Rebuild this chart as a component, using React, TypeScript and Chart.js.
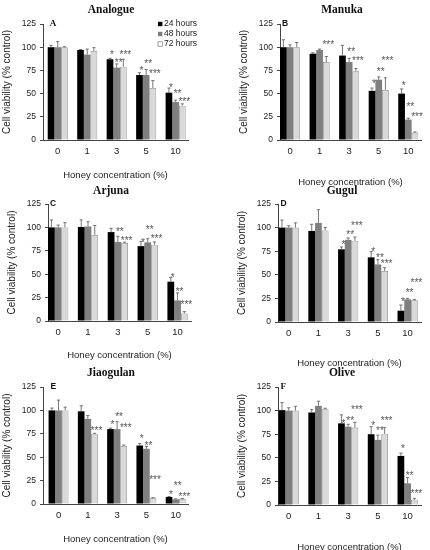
import React, { useEffect, useRef } from 'react';
import { Chart, registerables } from 'chart.js';

Chart.register(...registerables);

const SANS = '"Liberation Sans", Arial, Helvetica, sans-serif';
const SERIF = '"Liberation Serif", "Times New Roman", serif';
Chart.defaults.font.family = SANS;

// ---------- data ----------
const categories = ['0', '1', '3', '5', '10'];
const seriesLabels = ['24 hours', '48 hours', '72 hours'];
const yTickValues = [0, 25, 50, 75, 100, 125];
const xAxisTitle = 'Honey concentration (%)';
const yAxisTitle = 'Cell viability (% control)';

// [24 h, 48 h, 72 h] x categories
const analogueMeans = [[100, 97, 87, 70, 51], [100, 92, 78, 70, 41], [100, 96, 79, 56, 37]];
const analogueErrors = [[2, 0.5, 1, 2.5, 5], [6, 6, 4, 6, 2], [0.5, 3.5, 8, 8, 2]];
const analogueStars = [[null, null, 94, 77, 59], [null, null, 86, 85, 53], [null, null, 95, 74, 44]];

const manukaMeans = [[100, 93, 91, 53, 50], [100, 97, 84, 65, 22], [100, 84, 74, 54, 8]];
const manukaErrors = [[8, 1, 11, 3, 5], [2.5, 1, 4, 3, 1.5], [5, 6, 3, 13, 0.7]];
const manukaStars = [[null, null, null, 63, 61], [null, null, 98, 76, 38], [null, 105, 88, 88, 28]];

const arjunaMeans = [[100, 100.5, 95, 80, 42], [100, 101, 84.5, 84, 22], [100, 92, 83.5, 81.5, 8]];
const arjunaErrors = [[8, 7.5, 4, 5, 4.5], [2.5, 5, 6, 4, 8], [5, 10, 0.7, 3, 2]];
const arjunaStars = [[null, null, null, 86, 49], [null, null, 98, 100, 34], [null, null, 88, 90, 19.5]];

const gugulMeans = [[100, 96.5, 77, 68.5, 12], [100, 105, 87, 61, 24], [100, 97, 86, 54, 23]];
const gugulErrors = [[8, 7, 2.5, 6, 6], [2, 14, 2, 5, 1], [5, 3, 4, 3.5, 0.7]];
const gugulStars = [[null, null, 84.5, 77, 24], [null, null, 95, 71, 34], [null, null, 105, 64.5, 44]];

const jiaogulanMeans = [[100, 99, 80, 62.5, 7.5], [100, 91, 80, 59, 5], [100, 75, 62, 6.5, 5.5]];
const jiaogulanErrors = [[2.5, 6, 1, 2, 0.5], [11, 3.5, 8, 2.5, 0.5], [3.5, 0.5, 1, 0.3, 0.5]];
const jiaogulanStars = [[null, null, 87, 72, 12.5], [null, null, 95.5, 65, 22.5], [null, 81, 84, 29, 10]];

const oliveMeans = [[100.5, 98, 86.5, 75, 52], [100, 105, 83, 69, 23], [100, 101.5, 82, 75.5, 5.5]];
const oliveErrors = [[8, 3, 9, 8, 3], [3, 5, 2.5, 5, 6], [4.5, 1, 5.5, 6.5, 1.5]];
const oliveStars = [[null, null, 89, 87, 62.5], [null, null, 92, 81, 34], [null, null, 104, 92, 15]];

const panels = [
  { name: 'Analogue', letter: 'A', means: analogueMeans, errors: analogueErrors, stars: analogueStars, legend: true, serifLetter: true },
  { name: 'Manuka', letter: 'B', means: manukaMeans, errors: manukaErrors, stars: manukaStars, legend: false, serifLetter: false },
  { name: 'Arjuna', letter: 'C', means: arjunaMeans, errors: arjunaErrors, stars: arjunaStars, legend: false, serifLetter: false },
  { name: 'Gugul', letter: 'D', means: gugulMeans, errors: gugulErrors, stars: gugulStars, legend: false, serifLetter: false },
  { name: 'Jiaogulan', letter: 'E', means: jiaogulanMeans, errors: jiaogulanErrors, stars: jiaogulanStars, legend: false, serifLetter: false },
  { name: 'Olive', letter: 'F', means: oliveMeans, errors: oliveErrors, stars: oliveStars, legend: false, serifLetter: true },
];

// ---------- layout ----------
const frames = [
  { axisX: 43, right: 188, top: 24, bottom: 140, titleX: 111, titleY: 10, xMin: -0.5, xMax: 4.42, xTitleGap: 35 },
  { axisX: 280, right: 421, top: 24, bottom: 140, titleX: 342, titleY: 10, xMin: -0.34, xMax: 4.43, xTitleGap: 42 },
  { axisX: 48, right: 191, top: 204, bottom: 321, titleX: 111, titleY: 191, xMin: -0.34, xMax: 4.45, xTitleGap: 34 },
  { axisX: 278, right: 421, top: 204, bottom: 322, titleX: 342, titleY: 191, xMin: -0.36, xMax: 4.45, xTitleGap: 41 },
  { axisX: 43, right: 188, top: 387, bottom: 504, titleX: 111, titleY: 373, xMin: -0.53, xMax: 4.42, xTitleGap: 35 },
  { axisX: 278, right: 421, top: 387, bottom: 505, titleX: 342, titleY: 373, xMin: -0.36, xMax: 4.45, xTitleGap: 42 },
];

const Y_AXIS_W = 42;
const PAD_TOP = 24;
const PAD_RIGHT = 30;
const X_AXIS_H = 48;

const fills = ['#000000', '#7f7f7f', '#d9d9d9'];
const borders = ['#000000', '#7f7f7f', '#8a8a8a'];
const AXIS_COLOR = '#444';
const TEXT_COLOR = '#222';
const MARK_COLOR = '#555';

type PanelT = typeof panels[number];
type FrameT = typeof frames[number];

function PanelChart({ panel, frame }: { panel: PanelT; frame: FrameT }) {
  const ref = useRef<HTMLCanvasElement | null>(null);
  const left = frame.axisX - Y_AXIS_W;
  const top = frame.top - PAD_TOP;
  const width = frame.right + PAD_RIGHT - left;
  const height = frame.bottom + X_AXIS_H - top;

  useEffect(() => {
    if (!ref.current) return;
    const xTitleFont = 9.5;
    const xTitlePadBottom = X_AXIS_H - frame.xTitleGap - (xTitleFont * 1.2) / 2;

    const annotate = {
      id: 'annotate',
      afterDatasetsDraw(chart: any) {
        const { ctx, scales } = chart;
        const y = scales.y;
        ctx.save();
        ctx.strokeStyle = MARK_COLOR;
        ctx.fillStyle = MARK_COLOR;
        ctx.lineWidth = 0.8;
        ctx.font = `10px ${SANS}`;
        ctx.textAlign = 'center';
        ctx.textBaseline = 'alphabetic';
        panel.means.forEach((vals, s) => {
          const meta = chart.getDatasetMeta(s);
          vals.forEach((v, i) => {
            const bar = meta.data[i];
            if (!bar) return;
            const x = bar.x;
            const y0 = y.getPixelForValue(v);
            const y1 = y.getPixelForValue(v + panel.errors[s][i]);
            ctx.beginPath();
            ctx.moveTo(x, y0);
            ctx.lineTo(x, y1);
            ctx.moveTo(x - 1.6, y1);
            ctx.lineTo(x + 1.6, y1);
            ctx.stroke();
            const st = panel.stars[s][i];
            if (st !== null && st !== undefined) {
              ctx.fillText('*'.repeat(s + 1), x + 2, y.getPixelForValue(st) + 5.7);
            }
          });
        });
        ctx.restore();
      },
      afterDraw(chart: any) {
        const { ctx, chartArea, scales } = chart;
        ctx.save();
        ctx.fillStyle = '#111';
        ctx.textBaseline = 'middle';
        ctx.textAlign = 'center';
        ctx.font = `bold 11.5px ${SERIF}`;
        ctx.fillText(panel.name, frame.titleX - left, frame.titleY - top);

        const firstBar = chart.getDatasetMeta(0).data[0];
        const yTop = scales.y.getPixelForValue(125);
        ctx.textAlign = 'left';
        ctx.font = panel.serifLetter ? `bold 9px ${SERIF}` : `bold 8.5px ${SANS}`;
        const lx = firstBar ? firstBar.x - firstBar.width / 2 + 2 : chartArea.left + 4;
        ctx.fillText(panel.letter, lx, yTop);

        if (panel.legend) {
          ctx.font = `8.5px ${SANS}`;
          seriesLabels.forEach((lab, s) => {
            const ly = yTop + s * 10;
            const sx = chartArea.right - 30;
            ctx.fillStyle = s === 2 ? '#ffffff' : fills[s];
            ctx.fillRect(sx, ly - 2.2, 4.4, 4.4);
            if (s === 2) {
              ctx.strokeStyle = '#777';
              ctx.lineWidth = 0.7;
              ctx.strokeRect(sx, ly - 2.2, 4.4, 4.4);
            }
            ctx.fillStyle = TEXT_COLOR;
            ctx.fillText(lab, sx + 6, ly);
          });
        }
        ctx.restore();
      },
    };

    const chart = new Chart(ref.current, {
      type: 'bar',
      data: {
        datasets: seriesLabels.map((label, s) => ({
          label,
          data: categories.map((_, i) => ({ x: i, y: panel.means[s][i] })),
          backgroundColor: fills[s],
          borderColor: borders[s],
          borderWidth: s === 2 ? 0.8 : 0,
          barPercentage: 1,
          categoryPercentage: 0.68,
        })),
      },
      options: {
        animation: false,
        responsive: false,
        devicePixelRatio: window.devicePixelRatio || 1,
        layout: { padding: { top: PAD_TOP, left: 0, right: PAD_RIGHT, bottom: 0 } },
        plugins: {
          legend: { display: false },
          tooltip: { enabled: false },
          title: { display: false },
        },
        scales: {
          x: {
            type: 'linear',
            min: frame.xMin,
            max: frame.xMax,
            offset: false,
            afterBuildTicks: (axis: any) => {
              axis.ticks = categories.map((_, i) => ({ value: i }));
            },
            afterFit: (scale: any) => {
              scale.height = X_AXIS_H;
            },
            ticks: {
              autoSkip: false,
              maxRotation: 0,
              padding: 6,
              color: TEXT_COLOR,
              font: { size: 9.5 },
              callback: (v: any) => categories[v as number],
            },
            grid: { display: false, drawTicks: false },
            border: { display: true, color: AXIS_COLOR, width: 1 },
            title: {
              display: true,
              text: xAxisTitle,
              color: TEXT_COLOR,
              font: { size: xTitleFont },
              padding: { top: 0, bottom: xTitlePadBottom },
            },
          },
          y: {
            min: 0,
            max: 125,
            afterBuildTicks: (axis: any) => {
              axis.ticks = yTickValues.map((value) => ({ value }));
            },
            afterFit: (scale: any) => {
              scale.width = Y_AXIS_W;
            },
            ticks: { padding: 4, color: TEXT_COLOR, font: { size: 8.5 } },
            grid: { display: true, drawOnChartArea: false, drawTicks: true, tickLength: 3, color: AXIS_COLOR },
            border: { display: true, color: AXIS_COLOR, width: 1 },
            title: {
              display: true,
              text: yAxisTitle,
              color: TEXT_COLOR,
              font: { size: 10 },
              padding: { top: 0, bottom: 0 },
            },
          },
        },
      },
      plugins: [annotate],
    } as any);
    return () => chart.destroy();
  }, []);

  return (
    <canvas
      ref={ref}
      width={width}
      height={height}
      style={{ position: 'absolute', left, top, width, height }}
    />
  );
}

export default function App() {
  return (
    <div
      style={{
        position: 'absolute',
        left: 0,
        top: 0,
        width: 430,
        height: 550,
        overflow: 'hidden',
        background: '#ffffff',
      }}
    >
      {panels.map((p, k) => (
        <PanelChart key={p.name} panel={p} frame={frames[k]} />
      ))}
    </div>
  );
}
